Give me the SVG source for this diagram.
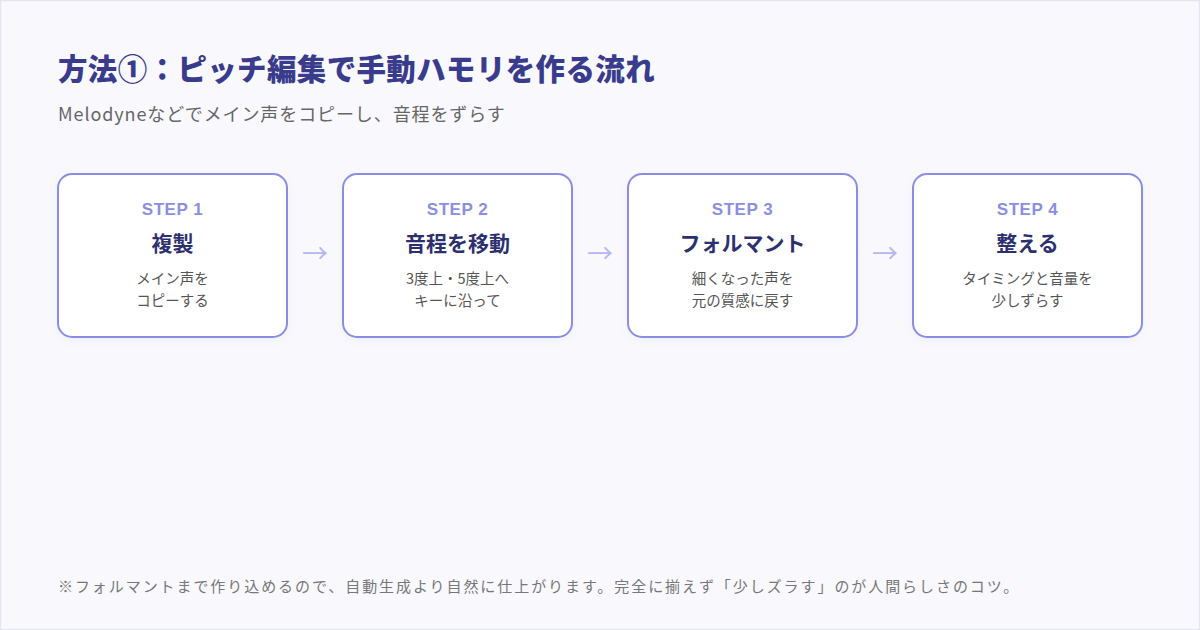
<svg xmlns="http://www.w3.org/2000/svg" width="1200" height="630" viewBox="0 0 1200 630">
<defs>
<filter id="sh" x="-10%" y="-10%" width="120%" height="130%">
<feDropShadow dx="0" dy="3" stdDeviation="4" flood-color="#6a6fd0" flood-opacity="0.08"/>
</filter>
<style>
text{font-family:"Noto Sans CJK JP","Noto Sans",sans-serif;}
.box{fill:#ffffff;stroke:#8a8ee2;stroke-width:2;}
.lbl{font-family:"Liberation Sans",Arial,sans-serif;font-weight:700;font-size:17px;letter-spacing:0.5px;fill:#8b8fe3;text-anchor:middle;}
.ttl{font-weight:700;font-size:21px;fill:#2d306f;text-anchor:middle;}
.dsc{font-size:14.5px;fill:#555555;text-anchor:middle;}
.arr{font-size:26px;fill:#b5b7f0;text-anchor:middle;}
</style>
</defs>
<rect x="0.5" y="0.5" width="1199" height="629" fill="#f9f9fd" stroke="#e4e4f4" stroke-width="1.5"/>
<text x="58" y="80" font-size="29.5" font-weight="900" letter-spacing="0.35" fill="#393c8d">方法①：ピッチ編集で手動ハモリを作る流れ</text>
<text x="58" y="121" font-size="18" letter-spacing="0.9" fill="#666666">Melodyneなどでメイン声をコピーし、音程をずらす</text>
<g id="connectors">
<text class="arr" x="315" y="263">→</text>
<text class="arr" x="600" y="263">→</text>
<text class="arr" x="885" y="263">→</text>
</g>
<g id="step1">
<rect class="box" x="58" y="174" width="229" height="163" rx="14" filter="url(#sh)"/>
<text class="lbl" x="172.5" y="215">STEP 1</text>
<text class="ttl" x="172.5" y="251">複製</text>
<text class="dsc" x="172.5" y="284">メイン声を</text>
<text class="dsc" x="172.5" y="306">コピーする</text>
</g>
<g id="step2">
<rect class="box" x="343" y="174" width="229" height="163" rx="14" filter="url(#sh)"/>
<text class="lbl" x="457.5" y="215">STEP 2</text>
<text class="ttl" x="457.5" y="251">音程を移動</text>
<text class="dsc" x="457.5" y="284">3度上・5度上へ</text>
<text class="dsc" x="457.5" y="306">キーに沿って</text>
</g>
<g id="step3">
<rect class="box" x="628" y="174" width="229" height="163" rx="14" filter="url(#sh)"/>
<text class="lbl" x="742.5" y="215">STEP 3</text>
<text class="ttl" x="742.5" y="251">フォルマント</text>
<text class="dsc" x="742.5" y="284">細くなった声を</text>
<text class="dsc" x="742.5" y="306">元の質感に戻す</text>
</g>
<g id="step4">
<rect class="box" x="913" y="174" width="229" height="163" rx="14" filter="url(#sh)"/>
<text class="lbl" x="1027.5" y="215">STEP 4</text>
<text class="ttl" x="1027.5" y="251">整える</text>
<text class="dsc" x="1027.5" y="284">タイミングと音量を</text>
<text class="dsc" x="1027.5" y="306">少しずらす</text>
</g>
<text x="58" y="592" font-size="15" letter-spacing="1.93" fill="#777777">※フォルマントまで作り込めるので、自動生成より自然に仕上がります。完全に揃えず「少しズラす」のが人間らしさのコツ。</text>
</svg>
